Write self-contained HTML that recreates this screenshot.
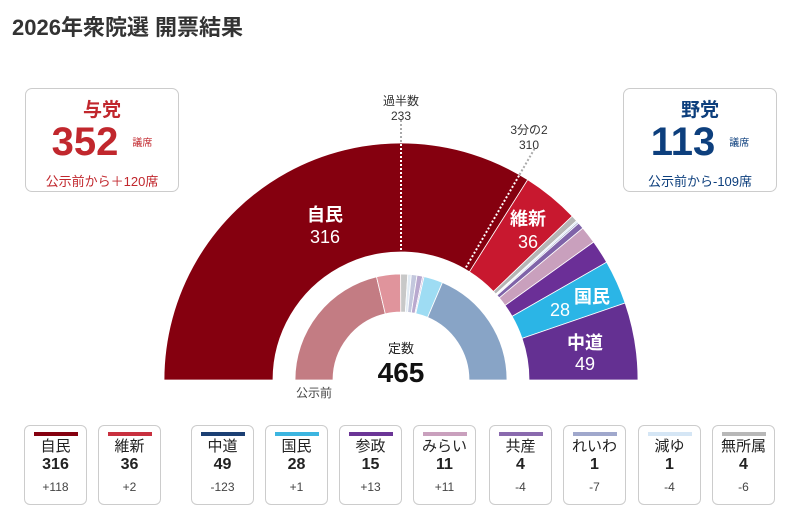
<!DOCTYPE html>
<html><head><meta charset="utf-8">
<style>
body{margin:0;width:800px;height:526px;background:#fff;font-family:"Liberation Sans","Noto Sans CJK JP",sans-serif;position:relative;overflow:hidden}
.t{position:absolute;left:12px;top:10px;font-size:22px;font-weight:bold;color:#333}
.box{position:absolute;top:88px;width:154px;height:104px;border:1px solid #ccc;border-radius:7px;box-sizing:border-box;text-align:center}
.box .h{font-size:19px;font-weight:bold;margin-top:6px}
.box .n{font-size:40px;font-weight:bold;line-height:40px;margin-top:0px}
.box .u{font-size:10px;font-weight:normal;margin-left:14px;vertical-align:middle}
.box .s{font-size:13px;margin-top:7px}
.card{position:absolute;top:425px;width:63px;height:80px;border:1px solid #ccc;border-radius:6px;box-sizing:border-box;text-align:center;color:#222}
.card .bar{width:44px;height:4px;margin:6px auto 0}
.card .nm{font-size:15px;line-height:18px;margin-top:2px}
.card .v{font-size:16px;font-weight:bold;line-height:18px}
.card .d{font-size:12px;color:#444;margin-top:6px}
</style></head><body>
<div class="t">2026年衆院選 開票結果</div>
<div class="box" style="left:25px;color:#c1272d"><div class="h">与党</div><div class="n">352<span class="u">議席</span></div><div class="s">公示前から＋120席</div></div>
<div class="box" style="left:623px;color:#0d3f7d"><div class="h">野党</div><div class="n">113<span class="u">議席</span></div><div class="s">公示前から-109席</div></div>
<svg id="s" width="800" height="526" style="position:absolute;left:0;top:0"></svg>
<div id="cards"></div>
<script>
var cx=401,cy=380;
function arc(a0,a1,r0,r1,col){
 function p(a,r){var t=Math.PI-a;return [(cx+r*Math.cos(t)).toFixed(2),(cy-r*Math.sin(t)).toFixed(2)];}
 var A=p(a0,r1),B=p(a1,r1),C=p(a1,r0),D=p(a0,r0),l=(a1-a0)>Math.PI?1:0;
 return '<path d="M'+A+' A'+r1+' '+r1+' 0 '+l+' 1 '+B+' L'+C+' A'+r0+' '+r0+' 0 '+l+' 0 '+D+'Z" fill="'+col+'" stroke="#fff" stroke-width="0.8"/>';}
var out=[[316,'#85000f'],[36,'#c8182f'],[4,'#b5b5b5'],[1,'#d5e6f5'],[1,'#a0a8cc'],[4,'#7f63a8'],[11,'#c9a0bd'],[15,'#6b2f97'],[28,'#2bb5e6'],[49,'#643092']];
var inn=[[198,'#c37c83'],[34,'#e0949c'],[10,'#c8c8c8'],[5,'#e3ecf5'],[8,'#c3c7dd'],[8,'#b9a9cf'],[0,'#ddd'],[2,'#c9b0d8'],[27,'#9edcf3'],[173,'#88a4c6']];
var h='',a=0;
out.forEach(function(o){var b=a+o[0]/465*Math.PI;h+=arc(a,b,128,237,o[1]);a=b;});
a=0;inn.forEach(function(o){var b=a+o[0]/465*Math.PI;if(o[0])h+=arc(a,b,68,106,o[1]);a=b;});
// majority line
h+='<line x1="401" y1="120" x2="401" y2="143" stroke="#aaa" stroke-width="2" stroke-dasharray="2,2"/>';
h+='<line x1="401" y1="144" x2="401" y2="252" stroke="#fff" stroke-width="2" stroke-dasharray="2,2"/>';
var t=Math.PI/3;
function pt(r){return [cx+r*Math.cos(t),cy-r*Math.sin(t)];}
var p1=pt(130),p2=pt(237),p3=pt(268);
h+='<line x1="'+p1[0]+'" y1="'+p1[1]+'" x2="'+p2[0]+'" y2="'+p2[1]+'" stroke="#fff" stroke-width="2" stroke-dasharray="2,2"/>';
h+='<line x1="'+p2[0]+'" y1="'+p2[1]+'" x2="'+p3[0]+'" y2="'+p3[1]+'" stroke="#aaa" stroke-width="2" stroke-dasharray="2,2"/>';
function tx(x,y,s,sz,c,w){return '<text x="'+x+'" y="'+y+'" font-size="'+sz+'" fill="'+c+'" font-weight="'+(w||'normal')+'" text-anchor="middle">'+s+'</text>';}
h+=tx(401,105,'過半数',12,'#333')+tx(401,120,'233',12,'#333');
h+=tx(529,134,'3分の2',12,'#333')+tx(529,149,'310',12,'#333');
h+=tx(325,221,'自民',18,'#fff','bold')+tx(325,243,'316',18,'#fff');
h+=tx(528,225,'維新',18,'#fff','bold')+tx(528,248,'36',18,'#fff');
h+=tx(592,303,'国民',18,'#fff','bold')+tx(560,316,'28',18,'#fff');
h+=tx(585,349,'中道',18,'#fff','bold')+tx(585,370,'49',18,'#fff');
h+=tx(401,353,'定数',13,'#222')+tx(401,382,'465',28,'#111','bold');
h+=tx(314,397,'公示前',12,'#444');
document.getElementById('s').innerHTML=h;
var cs=[['自民',316,'+118','#85000f',24],['維新',36,'+2','#c8303f',98],['中道',49,'-123','#1b3f73',191],['国民',28,'+1','#3cb5e0',265],['参政',15,'+13','#6b3596',339],['みらい',11,'+11','#c9a0bd',413],['共産',4,'-4','#8a6aae',489],['れいわ',1,'-7','#a0a8cc',563],['減ゆ',1,'-4','#d5e6f5',638],['無所属',4,'-6','#b8b8b8',712]];
var c='';cs.forEach(function(k){c+='<div class="card" style="left:'+k[4]+'px"><div class="bar" style="background:'+k[3]+'"></div><div class="nm">'+k[0]+'</div><div class="v">'+k[1]+'</div><div class="d">'+k[2]+'</div></div>';});
document.getElementById('cards').innerHTML=c;
</script>
</body></html>
